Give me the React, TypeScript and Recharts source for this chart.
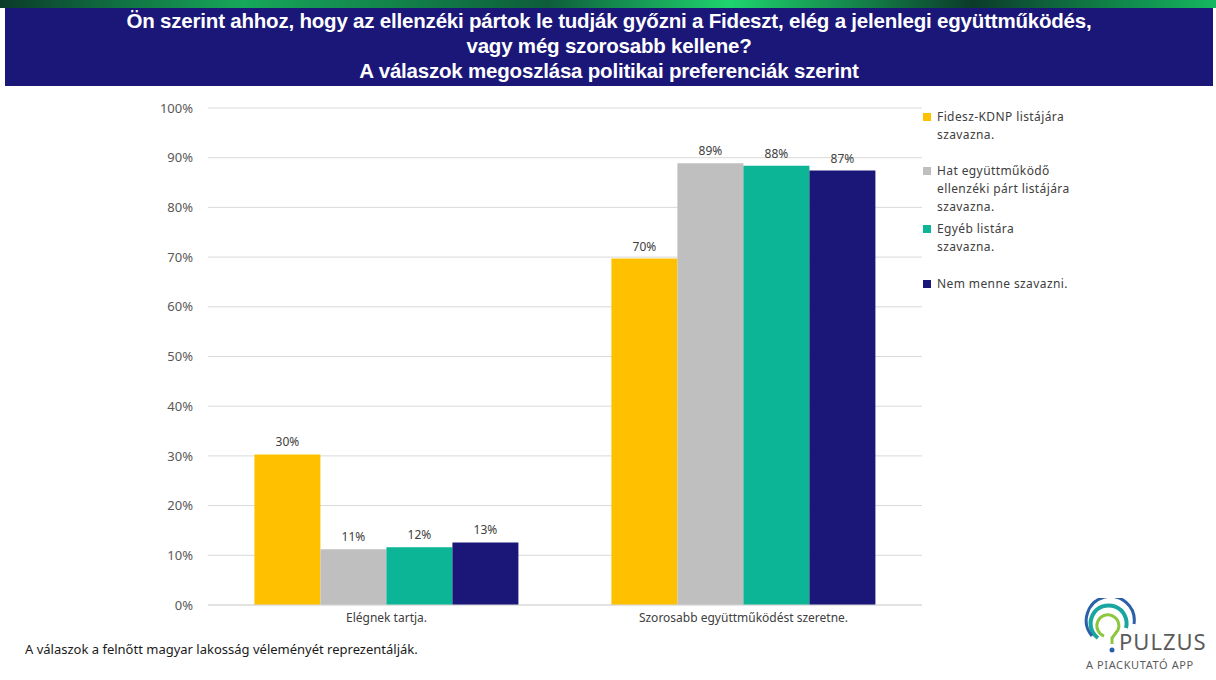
import React from "react";
import { Bar, BarChart, CartesianGrid, LabelList, Legend, XAxis, YAxis } from "recharts";

// Válaszkategóriák és a négy pártpreferencia-csoport értékei (%)
const categories = ["Elégnek tartja.", "Szorosabb együttműködést szeretne."];
const seriesNames = [
  "Fidesz-KDNP listájára\nszavazna.",
  "Hat együttműködő\nellenzéki párt listájára\nszavazna.",
  "Egyéb listára\nszavazna.",
  "Nem menne szavazni.",
];
const fideszValues = [30.3, 69.7];
const hatValues = [11.2, 88.9];
const egyebValues = [11.6, 88.4];
const nemValues = [12.6, 87.4];
const yTicks = [0, 10, 20, 30, 40, 50, 60, 70, 80, 90, 100];

const colors = ["#FFC000", "#BFBFBF", "#0BB596", "#1B1778"];
const keys = ["fidesz", "hat", "egyeb", "nem"];
const legendTops = [108, 162, 220, 275];

const data = categories.map((name, i) => ({
  name,
  fidesz: fideszValues[i],
  hat: hatValues[i],
  egyeb: egyebValues[i],
  nem: nemValues[i],
}));

const FONT = "'Noto Sans', 'Open Sans', sans-serif";

const LegendBox = () => (
  <div style={{ position: "absolute", left: 920, top: 0, width: 200, height: 320 }}>
    {seriesNames.map((n, i) => (
      <div
        key={n}
        style={{
          position: "absolute",
          top: legendTops[i],
          left: 0,
          display: "flex",
          alignItems: "flex-start",
          fontFamily: FONT,
          fontSize: 12,
          lineHeight: "18px",
          color: "#404040",
          letterSpacing: 0.4,
          whiteSpace: "pre-line",
        }}
      >
        <span style={{ width: 8, height: 8, background: colors[i], marginTop: 5, marginRight: 6, marginLeft: 3, flex: "none" }} />
        <span>{n}</span>
      </div>
    ))}
  </div>
);

const Logo = () => (
  <svg width={140} height={80} style={{ position: "absolute", left: 1076, top: 598 }}>
    <path d="M22 40 A 18 18 0 1 1 50 30" fill="none" stroke="#1aa6a0" strokeWidth={4} />
    <path d="M16 38 A 24 24 0 1 1 58 26" fill="none" stroke="#2b5fa8" strokeWidth={3} />
    <path d="M28 38 A 11 11 0 1 1 42 32 L 36 40 L 36 46" fill="none" stroke="#8dc63f" strokeWidth={3} />
    <circle cx={36} cy={52} r={2.5} fill="#2b5fa8" />
    <text x={43} y={52} fontFamily={FONT} fontSize={22} fill="#5b5b5b" letterSpacing={1}>PULZUS</text>
    <text x={10} y={71} fontFamily={FONT} fontSize={11} fill="#5b5b5b" letterSpacing={0.6}>A PIACKUTATÓ APP</text>
  </svg>
);

const App = () => (
  <div style={{ position: "absolute", left: 0, top: 0, width: 1216, height: 680, background: "#fff", overflow: "hidden" }}>
    <div style={{ position: "absolute", left: 0, top: 0, width: 1216, height: 8, background: "linear-gradient(90deg,#0b3b2a,#17a85a 20%,#0e5d3a 45%,#1fd46e 60%,#0b3b2a 80%,#15b860)" }} />
    <div
      style={{
        position: "absolute",
        left: 5,
        top: 8,
        width: 1208,
        height: 78,
        background: "#1B1778",
        color: "#fff",
        fontFamily: "'Liberation Sans', Arial, sans-serif",
        fontWeight: "bold",
        fontSize: 20.5,
        lineHeight: "25px",
        textAlign: "center",
        paddingTop: 0,
        boxSizing: "border-box",
        letterSpacing: -0.2,
      }}
    >
      Ön szerint ahhoz, hogy az ellenzéki pártok le tudják győzni a Fideszt, elég a jelenlegi együttműködés,
      <br />
      vagy még szorosabb kellene?
      <br />
      A válaszok megoszlása politikai preferenciák szerint
    </div>
    <div style={{ position: "absolute", left: 0, top: 0 }}>
      <BarChart
        width={1216}
        height={680}
        data={data}
        margin={{ top: 108, right: 294, bottom: 45, left: 148 }}
        barGap={0}
        barCategoryGap="13%"
      >
        <CartesianGrid vertical={false} stroke="#d9d9d9" />
        <XAxis
          dataKey="name"
          axisLine={{ stroke: "#d9d9d9" }}
          tickLine={false}
          height={30}
          tick={{ fill: "#404040", fontSize: 12, fontFamily: FONT }}
        />
        <YAxis
          domain={[0, 100]}
          ticks={yTicks}
          width={60}
          axisLine={false}
          tickLine={false}
          tickMargin={9}
          tickFormatter={(v) => `${v}%`}
          tick={{ fill: "#595959", fontSize: 13, fontFamily: FONT }}
        />
        <Legend content={() => null} />
        {keys.map((k, i) => (
          <Bar key={k} dataKey={k} name={seriesNames[i]} fill={colors[i]} isAnimationActive={false}>
            <LabelList
              dataKey={k}
              position="top"
              offset={8}
              formatter={(v: number) => `${Math.round(v)}%`}
              style={{ fill: "#404040", fontSize: 12, fontFamily: FONT }}
            />
          </Bar>
        ))}
      </BarChart>
    </div>
    <LegendBox />
    <div style={{ position: "absolute", left: 25, top: 640, fontFamily: FONT, fontSize: 13, color: "#1a1a1a" }}>
      A válaszok a felnőtt magyar lakosság véleményét reprezentálják.
    </div>
    <Logo />
  </div>
);

export default App;
